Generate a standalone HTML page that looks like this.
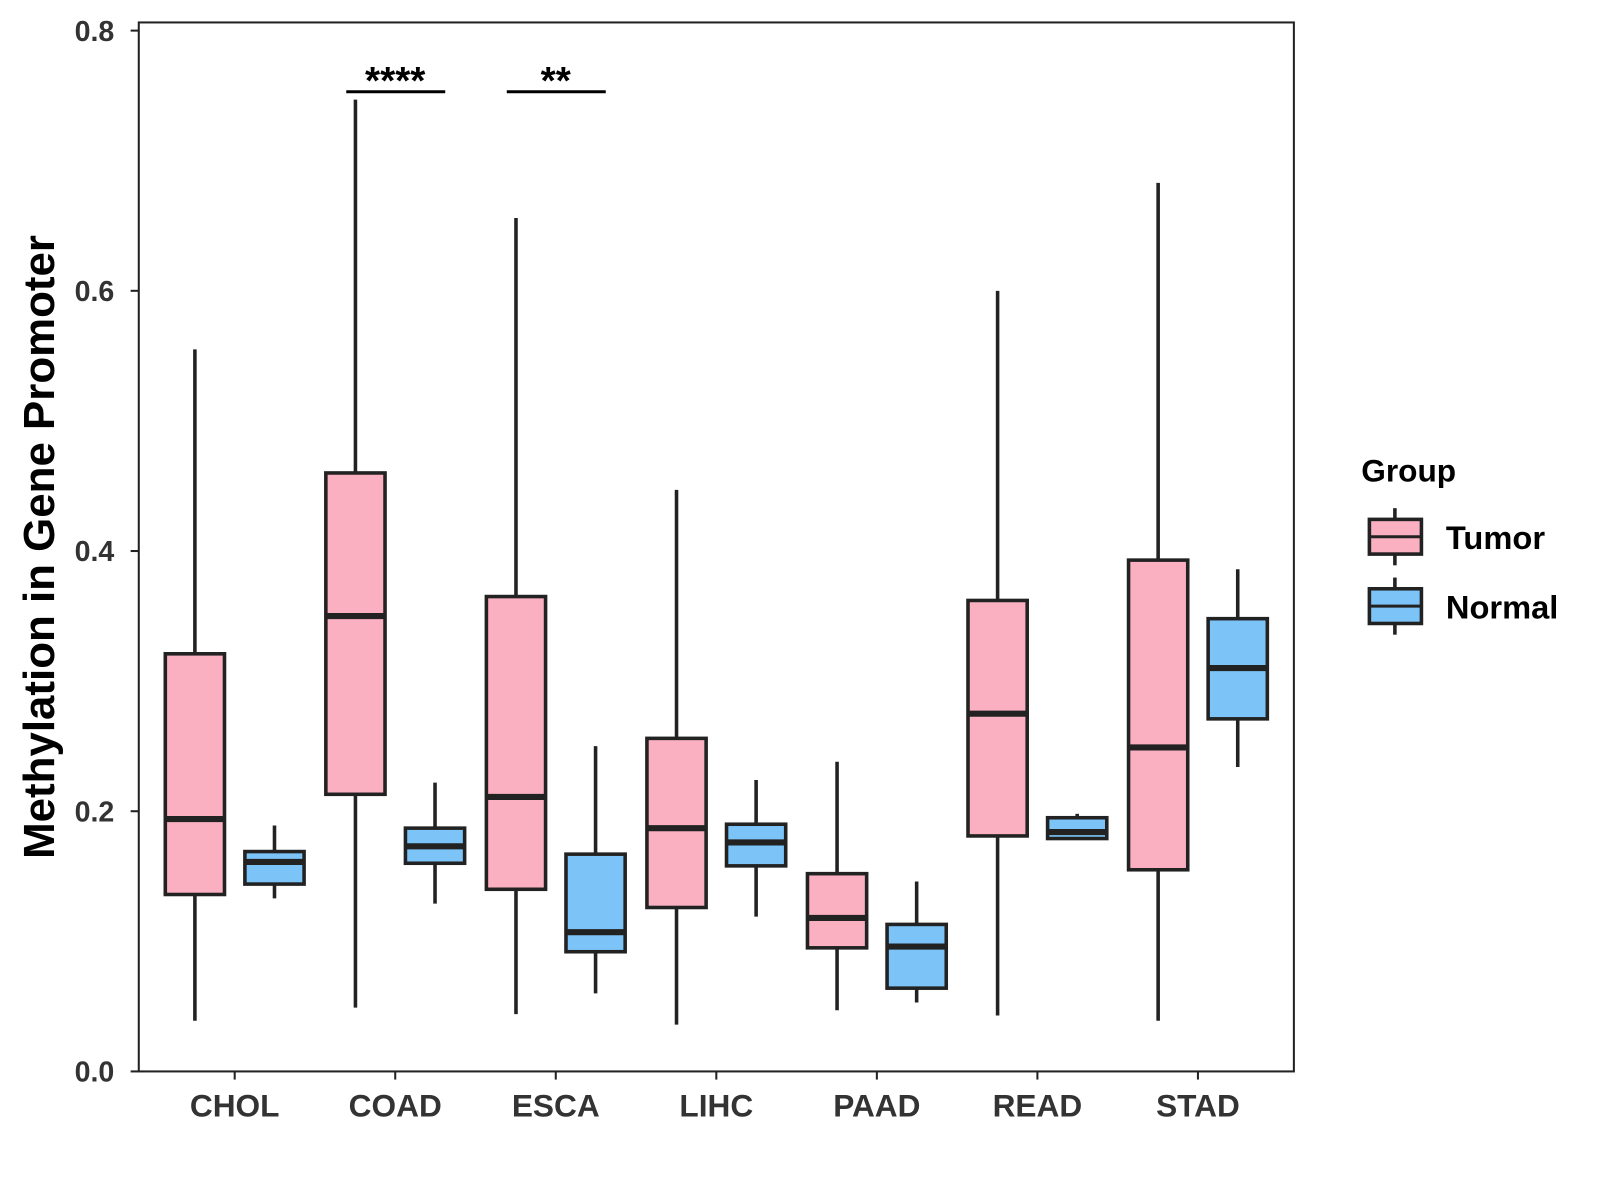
<!DOCTYPE html>
<html><head><meta charset="utf-8"><style>
body{margin:0;background:#fff;}
svg{display:block;}
svg text{font-family:"Liberation Sans",Arial,sans-serif;font-weight:bold;}
</style></head><body>
<svg width="1600" height="1200" viewBox="0 0 1568 1176" id="chart">
<rect x="0" y="0" width="1568" height="1176" fill="#fff"/>
<rect x="136" y="22" width="1132" height="1028" fill="none" stroke="#222" stroke-width="2"/>
<g id="marks"></g>
<g id="axes"></g>
<text x="0" y="0" transform="translate(53,536) rotate(-90)" text-anchor="middle" font-size="43" fill="#000">Methylation in Gene Promoter</text>
<g>
<text x="1334" y="472" font-size="31" fill="#000">Group</text>
<g>
<line x1="1367" y1="498" x2="1367" y2="554" stroke="#222" stroke-width="3.5"/>
<rect x="1342" y="509" width="51" height="34" fill="#FBB0C2" stroke="#222" stroke-width="3.5"/>
<line x1="1342" y1="526" x2="1393" y2="526" stroke="#222" stroke-width="3"/>
<text x="1417" y="538" font-size="32" fill="#000">Tumor</text></g>
<g>
<line x1="1367" y1="566" x2="1367" y2="622" stroke="#222" stroke-width="3.5"/>
<rect x="1342" y="577" width="51" height="34" fill="#7CC4F8" stroke="#222" stroke-width="3.5"/>
<line x1="1342" y1="594" x2="1393" y2="594" stroke="#222" stroke-width="3"/>
<text x="1417" y="606" font-size="32" fill="#000">Normal</text></g>
</g>
</svg>
<script>
const categories=["CHOL","COAD","ESCA","LIHC","PAAD","READ","STAD"];
const tumorStats=[[0.039,0.136,0.194,0.321,0.555],[0.049,0.213,0.35,0.46,0.747],[0.044,0.14,0.211,0.365,0.656],[0.036,0.126,0.187,0.256,0.447],[0.047,0.095,0.118,0.152,0.238],[0.043,0.181,0.275,0.362,0.6],[0.039,0.155,0.249,0.393,0.683]];
const normalStats=[[0.133,0.144,0.161,0.169,0.189],[0.129,0.16,0.173,0.187,0.222],[0.06,0.092,0.107,0.167,0.25],[0.119,0.158,0.176,0.19,0.224],[0.053,0.064,0.096,0.113,0.146],[0.178,0.179,0.184,0.195,0.198],[0.234,0.271,0.31,0.348,0.386]];
const yTicks=[0,0.2,0.4,0.6,0.8];
const yTickLabels=["0.0","0.2","0.4","0.6","0.8"];
const sigCats=[1,2];
const sigLabels=["****","**"];
const sigHeight=[0.753,0.753];

const NS="http://www.w3.org/2000/svg";
const y=v=>1050-v*1275;
const x=i=>230+i*157.33;
function mk(tag,attrs,parent){const e=document.createElementNS(NS,tag);for(const k in attrs)e.setAttribute(k,attrs[k]);parent.appendChild(e);return e;}
const marks=document.getElementById('marks'),axes=document.getElementById('axes');
function box(cx,s,fill,name){
  const g=mk('g',{},marks);
  
  
  mk('line',{x1:cx,x2:cx,y1:y(s[4]),y2:y(s[0]),stroke:'#222','stroke-width':3.5},g);
  mk('rect',{x:cx-29,y:y(s[3]),width:58,height:y(s[1])-y(s[3]),fill:fill,stroke:'#222','stroke-width':3.5},g);
  mk('line',{x1:cx-29,x2:cx+29,y1:y(s[2]),y2:y(s[2]),stroke:'#222','stroke-width':6},g);
}
categories.forEach((c,i)=>{
  box(x(i)-39,tumorStats[i],'#FBB0C2','box-tumor-'+c.toLowerCase());
  box(x(i)+39,normalStats[i],'#7CC4F8','box-normal-'+c.toLowerCase());
  mk('line',{x1:x(i),x2:x(i),y1:1050,y2:1058,stroke:'#222','stroke-width':2},axes);
  const t=mk('text',{x:x(i),y:1094,'text-anchor':'middle','font-size':31,fill:'#333'},axes);
  
  
  t.textContent=c;
});
yTicks.forEach((v,i)=>{
  mk('line',{x1:128,x2:136,y1:y(v),y2:y(v),stroke:'#222','stroke-width':2},axes);
  const t=mk('text',{x:112,y:y(v)+10,'text-anchor':'end','font-size':28,fill:'#333'},axes);
  
  
  t.textContent=yTickLabels[i];
});
sigCats.forEach((ci,k)=>{
  const yy=y(sigHeight[k]);
  const l=mk('line',{x1:x(ci)-48,x2:x(ci)+49,y1:yy,y2:yy,stroke:'#000','stroke-width':3},marks);
  
  
  const t=mk('text',{x:x(ci),y:yy+2,'text-anchor':'middle','font-size':38,fill:'#000'},marks);
  
  
  t.textContent=sigLabels[k];
});
</script>
</body></html>
